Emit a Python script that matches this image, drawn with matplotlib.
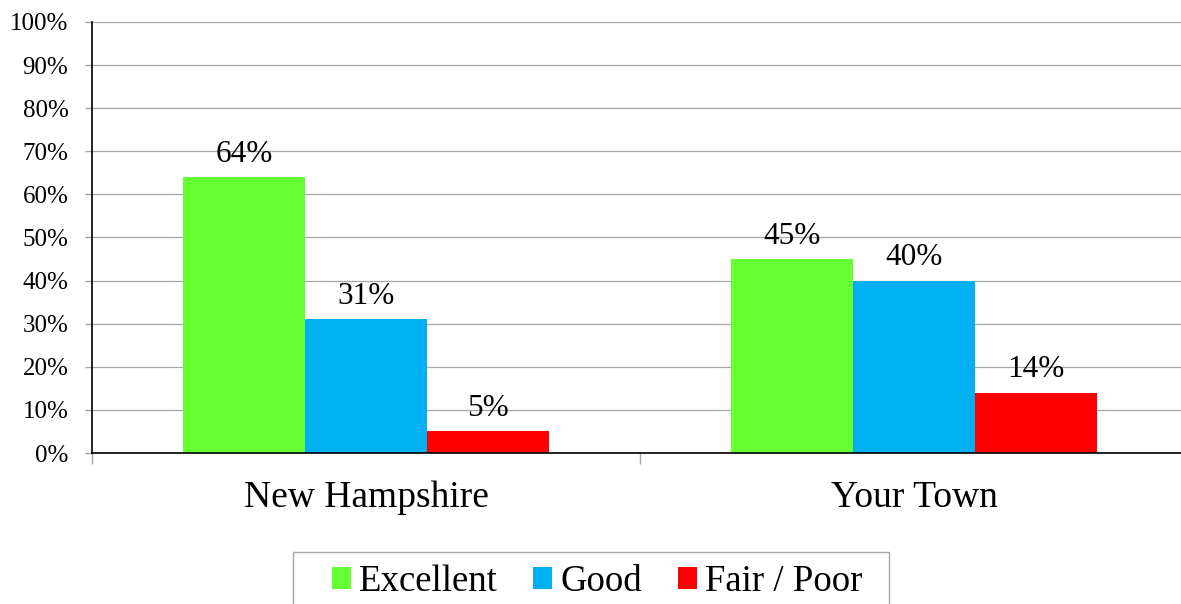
import matplotlib
matplotlib.use("Agg")
import matplotlib.pyplot as plt
from matplotlib.patches import Rectangle
import numpy as np

plt.rcParams['font.family'] = ['Liberation Serif', 'DejaVu Serif']

# data
groups = ["New Hampshire", "Your Town"]
series = ["Excellent", "Good", "Fair / Poor"]
excellent = [64, 45]
good = [31, 40]
fair_poor = [5, 14]
colors = ["#66FF33", "#00B0F0", "#FF0000"]
yticks = [0, 10, 20, 30, 40, 50, 60, 70, 80, 90, 100]

W, H = 1181, 604
fig = plt.figure(figsize=(W / 100, H / 100), dpi=100)
# axes runs a bit past the right edge, like the original
ax = fig.add_axes([92 / W, (H - 453) / H, 1096 / W, 431 / H])

x = np.arange(len(groups))
w = 0.2226
for i, (vals, col, name) in enumerate(zip([excellent, good, fair_poor], colors, series)):
    bars = ax.bar(x + (i - 1) * w, vals, w, color=col, label=name, zorder=2)
    for b, v in zip(bars, vals):
        ax.annotate(f"{v}%", (b.get_x() + b.get_width() / 2, v),
                    xytext=(0, 6), textcoords="offset points",
                    ha="center", va="bottom", fontsize=22.5)

ax.set_xlim(-0.5, 1.5)
ax.set_ylim(0, 100)
ax.set_yticks(yticks)
ax.set_yticklabels([f"{t}%" for t in yticks], fontsize=18)
ax.set_xticks(x)
ax.set_xticklabels(groups, fontsize=27)
ax.set_xticks([-0.5, 0.5, 1.5], minor=True)
ax.tick_params(axis="x", which="major", length=0, pad=20)
ax.tick_params(axis="x", which="minor", length=8, color="#A6A6A6", width=1)
ax.tick_params(axis="y", length=5, color="#A6A6A6", width=1, pad=12)

ax.yaxis.grid(True, color="#A6A6A6", linewidth=0.9, zorder=0)
ax.set_axisbelow(True)
for s in ["top", "right"]:
    ax.spines[s].set_visible(False)
for s in ["left", "bottom"]:
    ax.spines[s].set_linewidth(1.2)
    ax.spines[s].set_zorder(3)

# legend box
fig.patches.append(Rectangle((293 / W, -0.05), (889 - 293) / W, (H - 552) / H + 0.05,
                             transform=fig.transFigure, fill=False,
                             edgecolor="#A6A6A6", linewidth=1))
fig.legend(loc="center", bbox_to_anchor=(597 / W, (H - 582) / H), ncol=3,
           frameon=False, fontsize=26.5, handlelength=0.52, handleheight=0.52,
           handletextpad=0.22, columnspacing=0.96, borderpad=0)

fig.savefig("out.png", dpi=100)
